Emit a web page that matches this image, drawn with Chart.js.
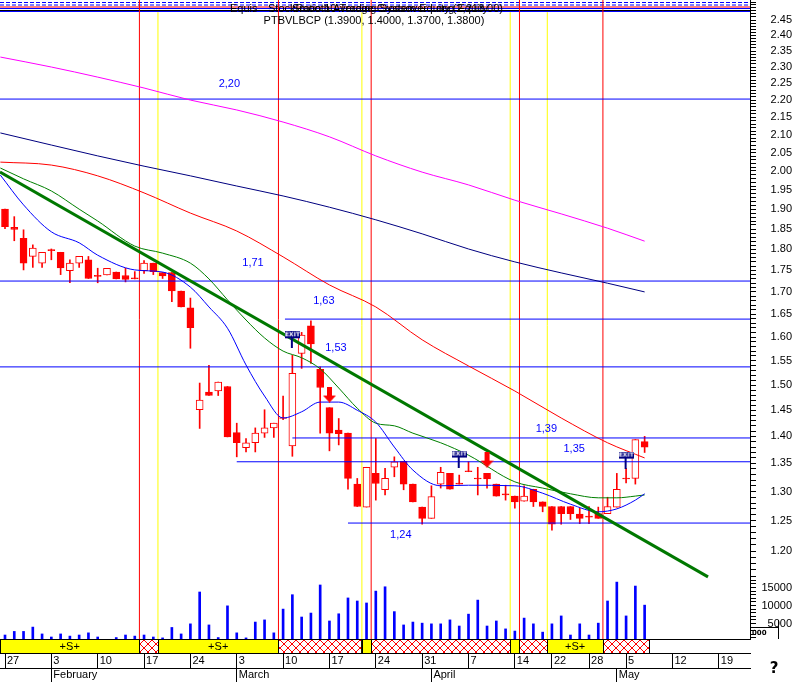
<!DOCTYPE html>
<html>
<head>
<meta charset="utf-8">
<script src="https://cdn.jsdelivr.net/npm/chart.js@4.4.1/dist/chart.umd.min.js"></script>
<style>
  html, body { margin: 0; padding: 0; background: #fff; }
  canvas { display: block; }
</style>
</head>
<body>
<canvas id="chart" width="797" height="682"></canvas>
<script>
// PTBVLBCP daily bars, 27 Jan .. 7 May, x = trading-day index
const opens = [1.900,1.854,1.827,1.783,1.767,1.797,1.793,1.749,1.767,1.775,
  1.736,1.739,1.746,1.738,1.730,1.749,1.767,1.745,1.745,1.702,
  1.664,1.451,1.486,1.488,1.497,1.407,1.379,1.388,1.406,1.416,
  1.434,1.382,1.565,1.624,1.532,1.455,1.412,1.406,1.313,1.273,
  1.332,1.303,1.343,1.354,1.313,1.273,1.254,1.313,1.332,1.313,
  1.335,1.322,1.332,1.313,1.294,1.292,1.283,1.304,1.282,1.274,
  1.274,1.274,1.261,1.256,1.262,1.262,1.273,1.322,1.323,1.390];
const highs = [1.900,1.881,1.848,1.811,1.793,1.801,1.793,1.775,1.783,1.783,
  1.755,1.755,1.746,1.755,1.747,1.773,1.767,1.745,1.745,1.702,
  1.686,1.504,1.540,1.506,1.497,1.425,1.396,1.416,1.451,1.425,
  1.478,1.561,1.610,1.635,1.537,1.455,1.434,1.406,1.323,1.343,
  1.396,1.341,1.362,1.354,1.313,1.273,1.310,1.343,1.332,1.329,
  1.353,1.343,1.332,1.313,1.311,1.292,1.310,1.304,1.282,1.274,
  1.274,1.274,1.271,1.274,1.273,1.290,1.332,1.341,1.394,1.400];
const lows = [1.851,1.821,1.751,1.757,1.757,1.775,1.740,1.721,1.757,1.731,
  1.721,1.739,1.730,1.723,1.730,1.743,1.740,1.731,1.678,1.666,
  1.576,1.415,1.479,1.479,1.399,1.362,1.371,1.371,1.398,1.398,
  1.432,1.363,1.534,1.544,1.406,1.373,1.384,1.304,1.274,1.273,
  1.285,1.294,1.326,1.303,1.282,1.244,1.254,1.306,1.304,1.313,
  1.335,1.294,1.306,1.292,1.285,1.271,1.283,1.274,1.265,1.234,
  1.244,1.252,1.245,1.245,1.254,1.262,1.273,1.315,1.313,1.370];
const closes = [1.856,1.849,1.767,1.803,1.793,1.797,1.756,1.767,1.783,1.731,
  1.736,1.755,1.730,1.729,1.730,1.767,1.747,1.737,1.702,1.666,
  1.620,1.470,1.479,1.506,1.399,1.388,1.388,1.406,1.416,1.425,
  1.434,1.524,1.604,1.585,1.495,1.406,1.405,1.323,1.274,1.343,
  1.314,1.323,1.353,1.313,1.282,1.254,1.291,1.334,1.304,1.313,
  1.335,1.322,1.322,1.292,1.294,1.282,1.292,1.282,1.274,1.244,
  1.262,1.262,1.254,1.256,1.254,1.274,1.304,1.322,1.394,1.380];
const volumes = [1800,2800,2800,4000,2100,1250,2100,1500,1800,2400,
  1250,300,1100,1800,1500,1800,1250,1000,3900,2100,
  4900,13750,4600,1100,9900,2400,1000,5400,6000,2400,
  9000,13000,6800,7900,15700,5700,7700,12100,11250,10700,
  14000,15200,8300,4600,5400,5100,4900,4900,6000,4300,
  7600,11500,4300,5700,3500,2900,6500,4900,2600,4900,
  7100,1800,4900,1800,5100,11250,16500,7100,15400,10100];

// moving averages, sampled at these day indexes
const longMaIdx = [-0.5,5,10,15,20,25,30,35,40,45,50,55,60,65,69];
const magentaMa = [2.331,2.300,2.269,2.236,2.200,2.171,2.136,2.094,2.041,1.997,1.963,1.923,1.888,1.852,1.820];
const navyMa    = [2.105,2.071,2.041,2.013,1.987,1.960,1.934,1.905,1.873,1.838,1.801,1.770,1.744,1.720,1.700];
const redMa     = [2.024,2.016,1.987,1.942,1.890,1.845,1.782,1.716,1.666,1.594,1.539,1.488,1.435,1.388,1.360];
const shortMaIdx = [-0.5,2,5,8,10,14,17,20,22,24,26,28,30,32,34,36,38,40,42,44,47,50,55,58,61,64,66,68,69];
const blueMa  = [1.989,1.911,1.843,1.816,1.786,1.751,1.746,1.711,1.666,1.619,1.541,1.478,1.435,1.447,1.466,
  1.466,1.450,1.427,1.380,1.338,1.310,1.311,1.310,1.297,1.278,1.265,1.270,1.285,1.296];
const greenMa = [2.008,1.979,1.947,1.900,1.870,1.808,1.791,1.767,1.730,1.682,1.637,1.598,1.570,1.556,1.533,
  1.494,1.454,1.425,1.420,1.406,1.388,1.365,1.317,1.306,1.296,1.289,1.289,1.292,1.294];

// trend line
const trendIdx = [-0.54, 75.84];
const trendPrice = [1.997, 1.159];

// horizontal levels
const levelPrice = [2.203, 1.725, 1.639, 1.537, 1.397, 1.353, 1.246];
const levelStart = [-1, -1, 30.2, -1, 31, 25, 37];
const levelText = ['2,20', '1,71', '1,63', '1,53', '1,39', '1,35', '1,24'];
const levelTextIdx = [24.2, 26.75, 34.4, 35.7, 58.4, 61.4, 42.7];
const levelTextPrice = [2.248, 1.767, 1.679, 1.577, 1.414, 1.376, 1.226];

// system signals
const sellAt = [14.5, 29.5, 39.5, 55.5, 64.5];
const buyAt = [16.5, 38.5, 54.5, 58.5];
const signalEdges = [-0.54, 14.5, 16.5, 29.5, 38.5, 39.5, 54.5, 55.5, 58.5, 64.5, 69.5];
const signalState = ['buy','sell','buy','sell','buy','sell','buy','sell','buy','sell'];

// markers
const exitIdx = [31, 49, 67];
const exitPrice = [1.594, 1.358, 1.356];
const arrowIdx = [35, 52];
const arrowPrice = [1.481, 1.357];

// axes
const weekTickIdx = [0,5,10,15,20,25,30,35,40,45,50,55,59,63,67,72,77];
const weekTickText = ['27','3','10','17','24','3','10','17','24','31','7','14','22','28','5','12','19'];
const monthTickIdx = [5, 25, 46, 66];
const monthTickText = ['February', 'March', 'April', 'May'];
const xMin = -0.5394, xMax = 80.367;
const priceMin = 1.1542, priceMax = 2.5168;
const volMin = 694, volMax = 17083;

const priceTicks = [];
for (let c = 116; c <= 251; c++) priceTicks.push(c / 100);
const volTicks = [];
for (let v = 1000; v <= 17000; v += 1000) volTicks.push(v);

const FONT = '"Liberation Sans", Arial, sans-serif';
Chart.defaults.font.family = FONT;
Chart.defaults.font.size = 11;
Chart.defaults.color = '#000';

const makeExitFlag = () => {
  const c = document.createElement('canvas');
  c.width = 15; c.height = 17;
  const g = c.getContext('2d');
  g.fillStyle = '#000080';
  g.fillRect(0, 0, 15, 7);
  g.fillStyle = '#fff';
  g.font = 'bold 6px "DejaVu Sans"';
  g.textAlign = 'center';
  g.textBaseline = 'middle';
  g.fillText('EXIT', 7.5, 3.8);
  g.fillStyle = '#000080';
  g.fillRect(6, 7, 2, 10);
  return c;
};

const makeArrow = () => {
  const c = document.createElement('canvas');
  c.width = 13; c.height = 16;
  const g = c.getContext('2d');
  g.fillStyle = '#ff0000';
  g.fillRect(4, 0, 5, 9);
  g.beginPath();
  g.moveTo(0, 9); g.lineTo(13, 9); g.lineTo(6.5, 16);
  g.closePath();
  g.fill();
  return c;
};

const pts = (xs, ys) => xs.map((x, i) => ({ x, y: ys[i] }));
const vline = (list, top) => list.flatMap(b => [{ x: b, y: 0 }, { x: b, y: top }, { x: b, y: null }]);

const overlay = {
  id: 'overlay',
  beforeDraw(chart) {
    const ctx = chart.ctx;
    ctx.save();
    ctx.fillStyle = '#fff';
    ctx.fillRect(0, 0, chart.width, chart.height);
    ctx.restore();
  },
  beforeDatasetsDraw(chart) {
    // other indicators pinned off the top of the scale
    const { ctx, chartArea: a } = chart;
    ctx.save();
    ctx.lineWidth = 1;
    ctx.strokeStyle = '#0000ff';
    ctx.setLineDash([4, 2]);
    [2.5, 5].forEach(dy => {
      ctx.beginPath(); ctx.moveTo(a.left, a.top + dy); ctx.lineTo(a.right, a.top + dy); ctx.stroke();
    });
    ctx.setLineDash([]);
    ctx.strokeStyle = '#ff0000';
    ctx.beginPath(); ctx.moveTo(a.left, a.top + 7); ctx.lineTo(a.right, a.top + 7); ctx.stroke();
    ctx.strokeStyle = '#0000ff';
    ctx.beginPath(); ctx.moveTo(a.left, a.top + 8.5); ctx.lineTo(a.right, a.top + 8.5); ctx.stroke();
    ctx.strokeStyle = '#000';
    ctx.beginPath(); ctx.moveTo(a.left, a.top + 10.5); ctx.lineTo(a.right, a.top + 10.5); ctx.stroke();
    ctx.strokeStyle = '#0000ff';
    ctx.beginPath(); ctx.moveTo(a.left, a.top + 11.5); ctx.lineTo(a.right, a.top + 11.5); ctx.stroke();
    ctx.restore();
  },
  afterDatasetsDraw(chart) {
    const { ctx } = chart;
    const xs = chart.scales.x, ys = chart.scales.y;
    ctx.save();
    ctx.font = '11px ' + FONT;
    ctx.textAlign = 'center';
    ctx.textBaseline = 'middle';
    ctx.fillStyle = '#0000ff';
    levelText.forEach((t, i) => {
      ctx.fillText(t, xs.getPixelForValue(levelTextIdx[i]), ys.getPixelForValue(levelTextPrice[i]));
    });
    ctx.fillStyle = '#000';
    ctx.fillText('PTBVLBCP (1.3900, 1.4000, 1.3700, 1.3800)', 374, 21);
    ctx.textAlign = 'left';
    ctx.fillText('Equis', 230, 9);
    ctx.fillText('StockRatio 10 Trading System Equity (2,213.00)', 268, 9);
    ctx.fillText('Smooth Average Crossover Long Equity', 292, 9);
    ctx.restore();
  },
  afterDraw(chart) {
    const { ctx } = chart;
    const xs = chart.scales.x, ss = chart.scales.xs, vs = chart.scales.yv;
    const top = ss.top, bot = ss.bottom;
    ctx.save();
    const pc = document.createElement('canvas');
    pc.width = 8; pc.height = 8;
    const pg = pc.getContext('2d');
    pg.fillStyle = '#fff'; pg.fillRect(0, 0, 8, 8);
    pg.strokeStyle = '#ff0000'; pg.lineWidth = 1;
    pg.beginPath(); pg.moveTo(0, 0); pg.lineTo(8, 8); pg.moveTo(8, 0); pg.lineTo(0, 8); pg.stroke();
    const hatch = ctx.createPattern(pc, 'repeat');
    signalState.forEach((s, i) => {
      const x0 = Math.max(xs.getPixelForValue(signalEdges[i]), xs.left);
      const x1 = xs.getPixelForValue(signalEdges[i + 1]);
      ctx.fillStyle = s === 'buy' ? '#ffff00' : hatch;
      ctx.fillRect(x0, top, x1 - x0, bot - top);
      ctx.strokeStyle = '#000';
      ctx.lineWidth = 1;
      ctx.strokeRect(Math.round(x0) + 0.5, top + 0.5, Math.round(x1 - x0), bot - top);
      if (s === 'buy' && x1 - x0 > 30) {
        ctx.fillStyle = '#000';
        ctx.font = '11px ' + FONT;
        ctx.textAlign = 'center';
        ctx.textBaseline = 'middle';
        ctx.fillText('+S+', (x0 + x1) / 2, (top + bot) / 2 + 0.5);
      }
    });
    ctx.strokeStyle = '#000';
    ctx.beginPath();
    ctx.moveTo(xs.left, top + 0.5); ctx.lineTo(xs.right, top + 0.5);
    ctx.moveTo(xs.left, bot + 0.5); ctx.lineTo(xs.right, bot + 0.5);
    ctx.stroke();
    // thousands box beside the volume scale
    ctx.beginPath();
    ctx.moveTo(vs.left, vs.bottom - 11.5); ctx.lineTo(vs.left + 28.5, vs.bottom - 11.5);
    ctx.moveTo(vs.left + 28.5, vs.bottom - 19); ctx.lineTo(vs.left + 28.5, vs.bottom);
    ctx.stroke();
    ctx.fillStyle = '#000';
    ctx.font = 'bold 7px "DejaVu Sans"';
    ctx.textAlign = 'left';
    ctx.textBaseline = 'middle';
    ctx.fillText('000', vs.left + 2, vs.bottom - 6);
    ctx.font = 'bold 15px "DejaVu Sans"';
    ctx.textAlign = 'center';
    ctx.fillText('?', 774, 669);
    ctx.restore();
  }
};

const red = '#ff0000';

const datasets = [
  { type: 'line', label: 'exit', data: pts(exitIdx, exitPrice), showLine: false,
    pointStyle: makeExitFlag(), pointRadius: 5, yAxisID: 'y', order: 0 },
  { type: 'line', label: 'arrows', data: pts(arrowIdx, arrowPrice), showLine: false,
    pointStyle: makeArrow(), pointRadius: 5, yAxisID: 'y', order: 0 },
  { type: 'line', label: 'trend', data: pts(trendIdx, trendPrice), borderColor: '#007800',
    borderWidth: 3, pointRadius: 0, yAxisID: 'y', order: 1 },
  { type: 'line', label: 'ma blue', data: pts(shortMaIdx, blueMa), borderColor: '#0000ff',
    borderWidth: 1, pointRadius: 0, cubicInterpolationMode: 'monotone', yAxisID: 'y', order: 2 },
  { type: 'line', label: 'ma green', data: pts(shortMaIdx, greenMa), borderColor: '#008000',
    borderWidth: 1, pointRadius: 0, cubicInterpolationMode: 'monotone', yAxisID: 'y', order: 2 },
  { type: 'line', label: 'ma red', data: pts(longMaIdx, redMa), borderColor: red,
    borderWidth: 1, pointRadius: 0, cubicInterpolationMode: 'monotone', yAxisID: 'y', order: 2 },
  { type: 'line', label: 'ma navy', data: pts(longMaIdx, navyMa), borderColor: '#000080',
    borderWidth: 1, pointRadius: 0, cubicInterpolationMode: 'monotone', yAxisID: 'y', order: 2 },
  { type: 'line', label: 'ma magenta', data: pts(longMaIdx, magentaMa), borderColor: '#ff00ff',
    borderWidth: 1, pointRadius: 0, cubicInterpolationMode: 'monotone', yAxisID: 'y', order: 2 },
  { type: 'line', label: 'levels',
    data: levelPrice.flatMap((p, i) => [{ x: levelStart[i], y: p }, { x: 82, y: p }, { x: 82, y: null }]),
    borderColor: '#0000ff', borderWidth: 1, pointRadius: 0, spanGaps: false, yAxisID: 'y', order: 3 },
  { type: 'bar', label: 'body', data: opens.map((o, i) => ({ x: i, y: [o, closes[i]] })),
    backgroundColor: (c) => closes[c.dataIndex] > opens[c.dataIndex] ? '#ffffff' : red,
    borderColor: red, borderWidth: 1, borderSkipped: false, barThickness: 7, minBarLength: 1,
    grouped: false, yAxisID: 'y', order: 4 },
  { type: 'bar', label: 'wick', data: lows.map((l, i) => ({ x: i, y: [l, highs[i]] })),
    backgroundColor: red, borderWidth: 0, barThickness: 1, minBarLength: 1,
    grouped: false, yAxisID: 'y', order: 5 },
  { type: 'bar', label: 'volume', data: volumes.map((v, i) => ({ x: i, y: v })),
    backgroundColor: '#0000ff', borderWidth: 0, barThickness: 2,
    grouped: false, yAxisID: 'yv', order: 6 },
  { type: 'line', label: 'sell', data: vline(sellAt, 1), borderColor: red, borderWidth: 1,
    pointRadius: 0, spanGaps: false, yAxisID: 'yf', order: 7 },
  { type: 'line', label: 'buy', data: vline(buyAt, 0.981),
    borderColor: '#ffff00', borderWidth: 1, pointRadius: 0, spanGaps: false, yAxisID: 'yf', order: 7 }
];

// fixed box sizes, and no label overhang padding pushed onto the layout
const fixedHeight = (h) => (s) => { s.height = h; s.paddingLeft = 0; s.paddingRight = 0; };
const fixedWidth = (w) => (s) => { s.width = w; s.paddingTop = 0; s.paddingBottom = 0; };

new Chart(document.getElementById('chart'), {
  type: 'bar',
  data: { datasets },
  plugins: [overlay],
  options: {
    responsive: false,
    animation: false,
    events: [],
    layout: { padding: { left: 0, top: 0, bottom: 0, right: 5 }, autoPadding: false },
    plugins: { legend: { display: false }, tooltip: { enabled: false }, title: { display: false } },
    scales: {
      x: {
        type: 'linear', position: 'bottom', weight: 1, min: xMin, max: xMax, bounds: 'data', offset: false,
        afterBuildTicks: (s) => { s.ticks = weekTickIdx.map(v => ({ value: v })); },
        afterFit: fixedHeight(15),
        grid: { drawOnChartArea: false, offset: false, tickLength: 15, color: '#000', tickColor: '#000' },
        border: { display: true, color: '#000' },
        ticks: {
          autoSkip: false, maxRotation: 0, minRotation: 0, align: 'start', labelOffset: 2, padding: -14,
          callback: (v) => { const k = weekTickIdx.indexOf(v); return k >= 0 ? weekTickText[k] : ''; }
        }
      },
      xs: {
        type: 'linear', position: 'bottom', weight: 0, min: xMin, max: xMax, bounds: 'data', offset: false,
        afterFit: fixedHeight(14),
        grid: { display: false },
        border: { display: true, color: '#000' },
        ticks: { display: false }
      },
      xm: {
        type: 'linear', position: 'bottom', weight: 2, min: xMin, max: xMax, bounds: 'data', offset: false,
        afterBuildTicks: (s) => { s.ticks = monthTickIdx.map(v => ({ value: v })); },
        afterFit: fixedHeight(14),
        grid: { drawOnChartArea: false, offset: false, tickLength: 14, color: '#000', tickColor: '#000' },
        border: { display: true, color: '#000' },
        ticks: {
          autoSkip: false, maxRotation: 0, minRotation: 0, align: 'start', labelOffset: 2, padding: -14,
          callback: (v) => { const k = monthTickIdx.indexOf(v); return k >= 0 ? monthTickText[k] : ''; }
        }
      },
      y: {
        type: 'logarithmic', position: 'right', stack: 'right', stackWeight: 580, weight: 0,
        min: priceMin, max: priceMax, bounds: 'data',
        afterBuildTicks: (s) => { s.ticks = priceTicks.map(v => ({ value: v })); },
        afterFit: fixedWidth(42),
        grid: { drawOnChartArea: false, tickLength: 6, color: '#000', tickColor: '#000' },
        border: { display: true, color: '#000' },
        ticks: {
          autoSkip: false, crossAlign: 'far', padding: 0,
          callback: (v) => {
            const c = Math.round(v * 100);
            return (c % 5 === 0 && c >= 120 && c <= 245) ? (c / 100).toFixed(2) : '';
          }
        }
      },
      yv: {
        type: 'linear', position: 'right', stack: 'right', stackWeight: 59, weight: 0,
        min: volMin, max: volMax, bounds: 'data',
        afterBuildTicks: (s) => { s.ticks = volTicks.map(v => ({ value: v })); },
        afterFit: fixedWidth(42),
        grid: { drawOnChartArea: false, tickLength: 6, color: '#000', tickColor: '#000' },
        border: { display: true, color: '#000' },
        ticks: {
          autoSkip: false, crossAlign: 'far', padding: 0,
          callback: (v) => (v % 5000 === 0 ? String(v) : '')
        }
      },
      yf: { type: 'linear', display: false, position: 'right', min: 0, max: 1, bounds: 'data' }
    }
  }
});
</script>
</body>
</html>
